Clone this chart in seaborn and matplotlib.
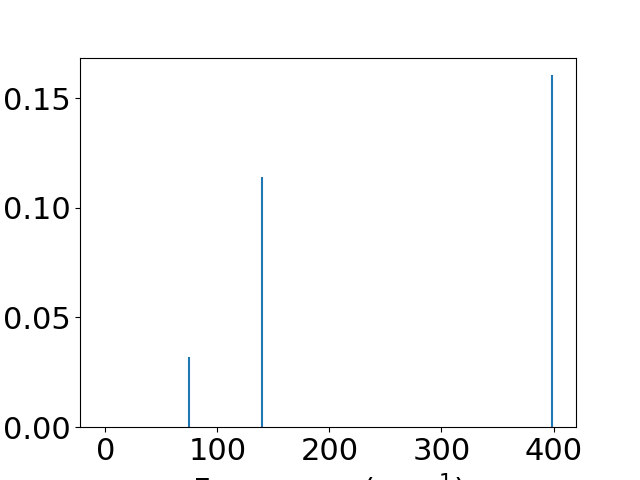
import matplotlib
matplotlib.use("Agg")
import seaborn as sns
import matplotlib.pyplot as plt

# spectrum peaks (frequency in cm^-1, intensity)
frequencies = [0, 75, 140, 399]
intensities = [0.0, 0.0319, 0.1139, 0.1604]

sns.set_style("ticks", {"axes.edgecolor": "black", "text.color": "black",
                        "xtick.color": "black", "ytick.color": "black",
                        "axes.labelcolor": "black"})
plt.rcParams['font.family'] = ['DejaVu Sans']
plt.rcParams['font.size'] = 22

fig, ax = plt.subplots(figsize=(6.4, 4.8), dpi=100)
ax.vlines(frequencies, 0, intensities, color=sns.color_palette("tab10")[0], linewidth=1.5)
ax.set_xlim(-22.5, 420)
ax.set_ylim(bottom=0)
ax.set_xlabel('Frequency (cm$^{-1}$)')
ax.tick_params(labelsize=22)

plt.savefig('out.png', dpi=100)
